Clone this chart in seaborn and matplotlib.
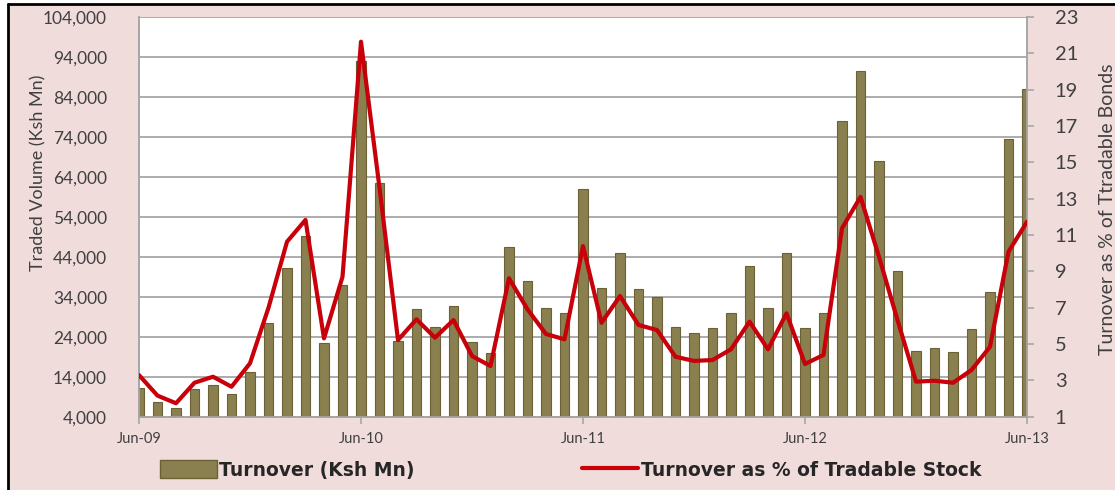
import matplotlib
matplotlib.use("Agg")
import matplotlib.pyplot as plt
import matplotlib.ticker as mticker
from matplotlib.lines import Line2D
from matplotlib.patches import Patch, Rectangle
import numpy as np
import pandas as pd
import seaborn as sns

months = pd.date_range("2009-06-01", periods=49, freq="MS").strftime("%b-%y").tolist()

turnover = [
    11100, 7600, 6250, 10850, 11850, 9600, 15250, 27350, 41100, 49200,
    22350, 36900, 93000, 62350, 22900, 30850, 26350, 31675, 22600, 19850,
    46500, 37900, 31100, 30000, 60850, 36100, 45000, 35850, 34000, 26350,
    25000, 26100, 30000, 41800, 31100, 45000, 26100, 30000, 78000, 90400,
    68000, 40500, 20500, 21100, 20100, 25850, 35250, 73600, 86100,
]
turnover_pct = [
    3.29, 2.16, 1.74, 2.87, 3.20, 2.65, 3.94, 7.0, 10.63, 11.83,
    5.31, 8.70, 21.64, 13.6, 5.22, 6.36, 5.35, 6.32, 4.34, 3.79,
    8.62, 6.91, 5.55, 5.26, 10.39, 6.17, 7.64, 6.05, 5.77, 4.30,
    4.07, 4.12, 4.71, 6.23, 4.71, 6.69, 3.90, 4.40, 11.37, 13.1,
    9.8, 6.32, 2.93, 2.98, 2.87, 3.57, 4.85, 10.08, 11.73,
]
tick_labels = ["Jun-09", "Jun-10", "Jun-11", "Jun-12", "Jun-13"]

df = pd.DataFrame({"month": months, "turnover": turnover, "pct": turnover_pct})
df["pos"] = np.arange(len(df))

sns.set_style("white")
plt.rcParams["font.family"] = ["Lato", "DejaVu Sans"]

bar_color = "#8a7f4e"
line_color = "#c8000a"
grid_color = "#a6a6a6"
text_color = "#404040"

fig = plt.figure(figsize=(11.15, 4.9), dpi=100, facecolor="white")
# pink chart background with the black frame on top and left
fig.patches.append(Rectangle((8 / 1115, 0), 1, 1 - 4 / 490, transform=fig.transFigure,
                             facecolor="#f1dcdc", edgecolor="none", zorder=-10))
fig.lines.append(Line2D([8 / 1115, 1], [1 - 4 / 490, 1 - 4 / 490], transform=fig.transFigure,
                        color="black", lw=2, zorder=-5))
fig.lines.append(Line2D([8 / 1115, 8 / 1115], [0, 1 - 4 / 490], transform=fig.transFigure,
                        color="black", lw=2, zorder=-5))

ax = fig.add_axes([139 / 1115, 1 - 416.7 / 490, (1027 - 139) / 1115, (416.7 - 17) / 490])
ax.set_facecolor("white")

sns.barplot(data=df, x="month", y="turnover", order=months, color=bar_color,
            width=0.5, saturation=1, edgecolor="#6a6136", linewidth=0.8, ax=ax, zorder=3)

ax.set_ylim(4000, 104000)
ax.set_yticks(np.arange(4000, 104001, 10000))
ax.yaxis.set_major_formatter(mticker.FuncFormatter(lambda v, p: f"{int(v):,}"))
ax.set_xlim(0, len(months) - 1)
ax.set_xticks([0, 12, 24, 36, 48])
ax.set_xticklabels(tick_labels)
ax.grid(axis="y", color=grid_color, lw=1.3, zorder=0)
ax.set_axisbelow(True)

ax2 = ax.twinx()
sns.lineplot(data=df, x="pos", y="pct", color=line_color, lw=3, ax=ax2, zorder=4)
ax2.set_ylim(1, 23)
ax2.set_yticks(np.arange(1, 24, 2))
ax2.set_xlim(0, len(months) - 1)

for a in (ax, ax2):
    a.spines["top"].set_visible(False)
    for side in ("left", "right", "bottom"):
        a.spines[side].set_color(grid_color)
        a.spines[side].set_linewidth(1.2)
    a.tick_params(colors=grid_color, labelcolor=text_color, length=5, width=1.2, direction="out")

ax.tick_params(axis="y", labelsize=12.5, left=False, pad=18)
ax.tick_params(axis="x", labelsize=10.5, bottom=True, pad=6)
ax2.tick_params(axis="y", labelsize=14.5, right=True, pad=15)

ax.set_xlabel("")
ax.set_ylabel("Traded Volume (Ksh Mn)", fontsize=13, color=text_color)
ax.yaxis.set_label_coords(-0.104, 0.61)
ax2.set_xlabel("")
ax2.set_ylabel("Turnover as % of Ttradable Bonds", fontsize=14, color=text_color)
ax2.yaxis.set_label_coords(1.081, 0.52)

handles = [
    Patch(facecolor=bar_color, edgecolor="#6a6136"),
    Line2D([], [], color=line_color, lw=3),
]
fig.legend(handles, ["Turnover (Ksh Mn)", "Turnover as % of Tradable Stock"],
           loc="center", bbox_to_anchor=(0.512, 1 - 470 / 490), ncol=2, frameon=False,
           prop={"family": "DejaVu Sans", "weight": "bold", "size": 13.5},
           handlelength=3.0, handleheight=1.1, handletextpad=0.15, columnspacing=8.9)

fig.savefig("out.png", dpi=100, facecolor=fig.get_facecolor())
